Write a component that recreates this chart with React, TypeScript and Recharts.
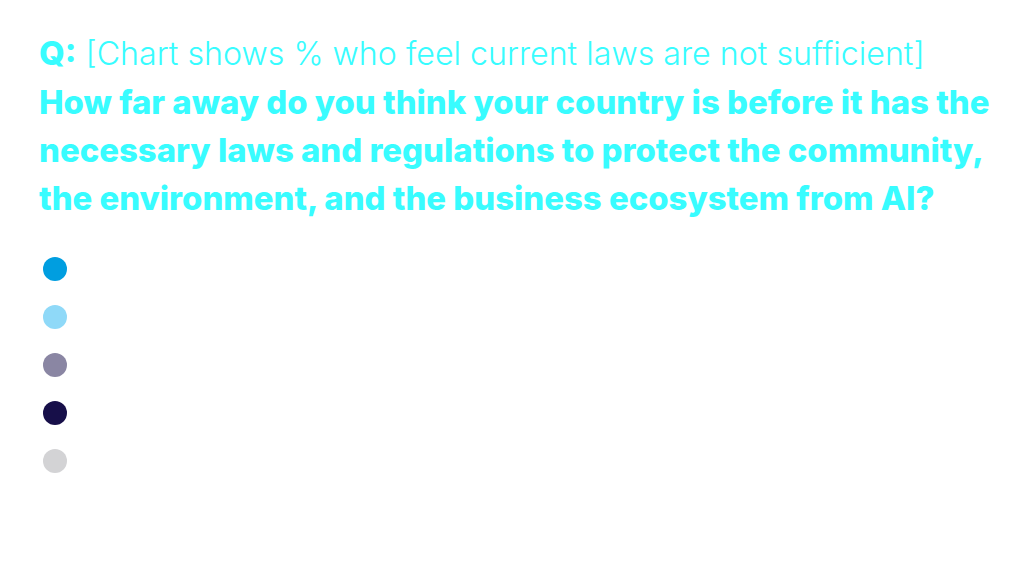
import { BarChart, Bar, XAxis, YAxis, Legend } from 'recharts';

// the source chart shows no bars, only the unlabeled legend swatches
const categories: string[] = [];
const seriesKeys = ['s1', 's2', 's3', 's4', 's5'];
const seriesColors = ['#009ee0', '#8fd9f8', '#8a86a3', '#170f49', '#d3d3d5'];
const seriesValues: number[][] = [[], [], [], [], []];

const CYAN = '#38fcff';

const data = categories.map((c, i) => {
  const row: Record<string, string | number> = { name: c };
  seriesKeys.forEach((k, s) => (row[k] = seriesValues[s][i]));
  return row;
});

function DotLegend(props: any) {
  const items = props.payload ?? [];
  return (
    <div>
      {items.map((entry: any, i: number) => (
        <div key={i} style={{ height: 48, display: 'flex', alignItems: 'center' }}>
          <span
            style={{
              display: 'inline-block',
              width: 24,
              height: 24,
              borderRadius: '50%',
              background: entry.color,
            }}
          />
        </div>
      ))}
    </div>
  );
}

export default function App() {
  return (
    <div
      style={{
        position: 'absolute',
        left: 0,
        top: 0,
        width: 1032,
        height: 582,
        background: '#fff',
        fontFamily: 'Inter, sans-serif',
      }}
    >
      <div
        style={{
          position: 'absolute',
          left: 39,
          top: 29,
          width: 1000,
          color: CYAN,
          fontSize: 32,
          lineHeight: '48px',
          whiteSpace: 'nowrap',
        }}
      >
        <div>
          <span style={{ fontWeight: 800, fontSize: 33 }}>Q:</span>{' '}
          <span style={{ fontWeight: 300, fontSize: 32.2 }}>[Chart shows % who feel current laws are not sufficient]</span>
        </div>
        <div style={{ fontWeight: 800, fontSize: 32.9 }}>
          How far away do you think your country is before it has the
          <br />
          necessary laws and regulations to protect the community,
          <br />
          the environment, and the business ecosystem from AI?
        </div>
      </div>
      <BarChart width={1032} height={582} data={data} style={{ position: 'absolute', left: 0, top: 0 }}>
        <XAxis dataKey="name" hide />
        <YAxis hide />
        <Legend
          layout="vertical"
          align="left"
          verticalAlign="top"
          content={DotLegend}
          wrapperStyle={{ left: 43, top: 245, width: 40 }}
        />
        {seriesKeys.map((k, i) => (
          <Bar key={k} dataKey={k} name="" stackId="a" fill={seriesColors[i]} isAnimationActive={false} />
        ))}
      </BarChart>
    </div>
  );
}
